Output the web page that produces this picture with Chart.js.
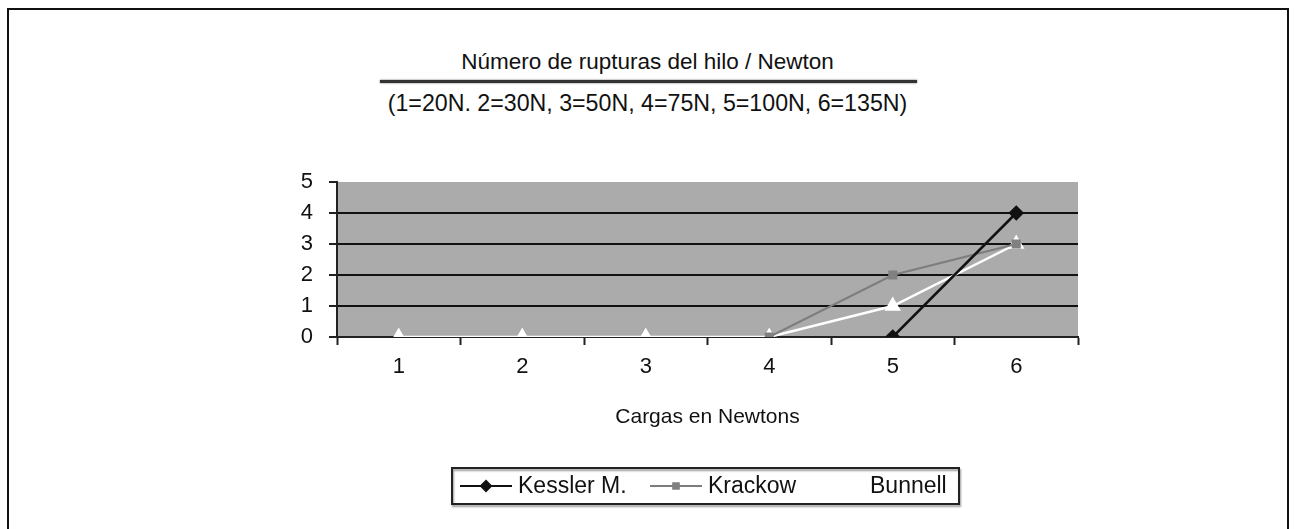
<!DOCTYPE html>
<html>
<head>
<meta charset="utf-8">
<script src="https://cdn.jsdelivr.net/npm/chart.js@4/dist/chart.umd.min.js"></script>
<style>
body{margin:0;background:#fff;font-family:Arial,"Liberation Sans",sans-serif;}
#wrap{position:relative;width:1295px;height:529px;overflow:hidden;}
#frame{position:absolute;left:7px;top:8px;width:1282px;height:540px;border:2px solid #111;border-bottom:none;box-sizing:border-box;}
.t{position:absolute;left:0;width:1295px;text-align:center;color:#111;font-size:22.5px;line-height:26px;}
#rule{position:absolute;left:380px;top:80px;width:537px;height:3px;background:#333;box-shadow:0 0 2px #555;}
canvas{position:absolute;left:0;top:0;}
</style>
</head>
<body>
<div id="wrap">
  <div id="frame"></div>
  <div class="t" style="top:49px">Número de rupturas del hilo / Newton</div>
  <div id="rule"></div>
  <div class="t" style="top:90px;font-size:23.2px">(1=20N. 2=30N, 3=50N, 4=75N, 5=100N, 6=135N)</div>
  <canvas id="c" width="1295" height="529"></canvas>
</div>
<script>
const categories=["1","2","3","4","5","6"];
const kessler=[null,null,null,null,0,4];
const krackow=[null,null,null,0,2,3];
const bunnell=[0,0,0,0,1,3];
const yTicks=[0,1,2,3,4,5];

// gray plot area
const plotBg={
  id:'plotBg',
  beforeDraw(chart){
    const {ctx,chartArea:a}=chart;
    ctx.save(); ctx.fillStyle='#ababab';
    ctx.fillRect(a.left,a.top,a.right-a.left,a.bottom-a.top);
    ctx.restore();
  }
};

// legend box like the original (line - marker - line, then text)
const boxLegend={
  id:'boxLegend',
  afterDraw(chart){
    const ctx=chart.ctx;
    const box={x:452,y:468,w:507,h:36};
    const starts=[460,650,818];
    const textX=[518,708,870];
    ctx.save();
    ctx.strokeStyle='#222'; ctx.lineWidth=2;
    ctx.shadowColor='rgba(0,0,0,0.4)'; ctx.shadowOffsetX=1; ctx.shadowOffsetY=2; ctx.shadowBlur=2;
    ctx.strokeRect(box.x,box.y,box.w,box.h);
    ctx.restore();
    const cy=box.y+box.h/2;
    chart.data.datasets.forEach((ds,i)=>{
      const x=starts[i];
      ctx.save();
      ctx.strokeStyle=ds.borderColor; ctx.lineWidth=2;
      ctx.beginPath(); ctx.moveTo(x,cy); ctx.lineTo(x+52,cy); ctx.stroke();
      ctx.fillStyle=ds.pointBackgroundColor; ctx.strokeStyle=ds.pointBackgroundColor;
      Chart.helpers.drawPoint(ctx,{pointStyle:ds.pointStyle,radius:ds.pointRadius-1,borderWidth:1,rotation:0},x+26,cy);
      ctx.fillStyle='#111'; ctx.font='23px Arial, "Liberation Sans"'; ctx.textBaseline='middle';
      ctx.fillText(ds.label,textX[i],cy+1);
      ctx.restore();
    });
  }
};

new Chart(document.getElementById('c'),{
  type:'line',
  data:{labels:categories,datasets:[
    {label:'Kessler M.',data:kessler,borderColor:'#111',backgroundColor:'#111',pointBackgroundColor:'#111',pointBorderColor:'#111',borderWidth:2.5,pointStyle:'rectRot',pointRadius:6},
    {label:'Krackow',data:krackow,borderColor:'#7d7d7d',backgroundColor:'#7d7d7d',pointBackgroundColor:'#808080',pointBorderColor:'#808080',borderWidth:2,pointStyle:'rect',pointRadius:5},
    {label:'Bunnell',data:bunnell,borderColor:'#fff',backgroundColor:'#fff',pointBackgroundColor:'#fff',pointBorderColor:'#fff',borderWidth:2.5,pointStyle:'triangle',pointRadius:7}
  ]},
  options:{
    responsive:false,animation:false,
    layout:{padding:{left:0,top:182,right:217,bottom:92}},
    plugins:{legend:{display:false},tooltip:{enabled:false}},
    scales:{
      x:{
        offset:true,
        grid:{offset:true,drawOnChartArea:false,drawTicks:true,tickLength:8,tickColor:'#222',tickWidth:2},
        border:{color:'#222',width:2},
        ticks:{color:'#111',font:{size:22,family:'Arial'},padding:9},
        title:{display:true,text:'Cargas en Newtons',color:'#111',font:{size:21,family:'Arial'},padding:{top:0,bottom:7}},
        afterFit(s){s.height=100;}
      },
      y:{
        min:0,max:5,
        afterBuildTicks(s){s.ticks=yTicks.map(v=>({value:v}));},
        grid:{color:c=>c.tick&&c.tick.value===5?'rgba(0,0,0,0)':'#111',lineWidth:2,tickLength:8,tickColor:'#222',tickWidth:2},
        border:{color:'#222',width:2},
        ticks:{color:'#111',font:{size:22,family:'Arial'},padding:16},
        afterFit(s){s.width=337;}
      }
    }
  },
  plugins:[plotBg,boxLegend]
});
</script>
</body>
</html>
